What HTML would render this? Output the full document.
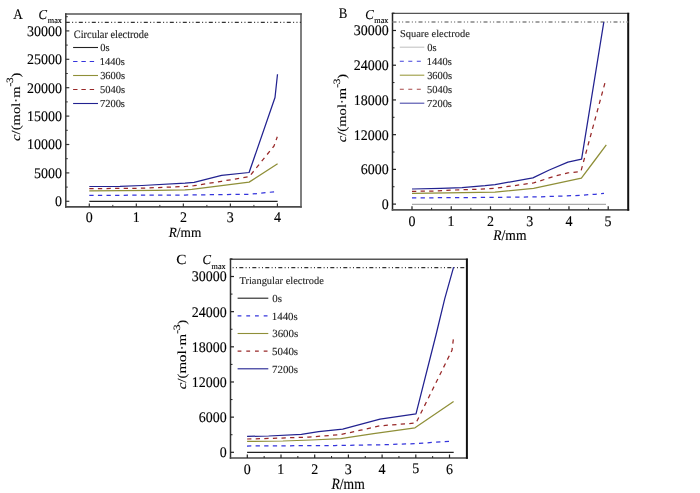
<!DOCTYPE html>
<html><head><meta charset="utf-8"><style>
html,body{margin:0;padding:0;background:#fff;}
svg{display:block;will-change:transform;}
text{font-family:"Liberation Serif",serif;text-rendering:geometricPrecision;}
</style></head><body>
<svg width="700" height="493" viewBox="0 0 700 493">
<rect width="700" height="493" fill="#fff"/>
<line x1="65.05" y1="13.90" x2="301.75" y2="13.90" stroke="#555" stroke-width="1.5" />
<line x1="65.80" y1="13.15" x2="65.80" y2="207.70" stroke="#3a3a3a" stroke-width="1.5" />
<line x1="65.05" y1="206.90" x2="301.75" y2="206.90" stroke="#4a4a4a" stroke-width="1.6" />
<line x1="301.00" y1="13.15" x2="301.00" y2="207.70" stroke="#555" stroke-width="1.5" />
<line x1="65.80" y1="201.30" x2="69.30" y2="201.30" stroke="#333" stroke-width="1.2" />
<line x1="65.80" y1="172.90" x2="69.30" y2="172.90" stroke="#333" stroke-width="1.2" />
<line x1="65.80" y1="144.50" x2="69.30" y2="144.50" stroke="#333" stroke-width="1.2" />
<line x1="65.80" y1="116.10" x2="69.30" y2="116.10" stroke="#333" stroke-width="1.2" />
<line x1="65.80" y1="87.70" x2="69.30" y2="87.70" stroke="#333" stroke-width="1.2" />
<line x1="65.80" y1="59.30" x2="69.30" y2="59.30" stroke="#333" stroke-width="1.2" />
<line x1="65.80" y1="30.90" x2="69.30" y2="30.90" stroke="#333" stroke-width="1.2" />
<line x1="65.80" y1="187.10" x2="67.80" y2="187.10" stroke="#333" stroke-width="1" />
<line x1="65.80" y1="158.70" x2="67.80" y2="158.70" stroke="#333" stroke-width="1" />
<line x1="65.80" y1="130.30" x2="67.80" y2="130.30" stroke="#333" stroke-width="1" />
<line x1="65.80" y1="101.90" x2="67.80" y2="101.90" stroke="#333" stroke-width="1" />
<line x1="65.80" y1="73.50" x2="67.80" y2="73.50" stroke="#333" stroke-width="1" />
<line x1="65.80" y1="45.10" x2="67.80" y2="45.10" stroke="#333" stroke-width="1" />
<line x1="65.80" y1="16.70" x2="67.80" y2="16.70" stroke="#333" stroke-width="1" />
<line x1="89.30" y1="206.90" x2="89.30" y2="203.40" stroke="#333" stroke-width="1.2" />
<line x1="112.81" y1="206.90" x2="112.81" y2="204.90" stroke="#333" stroke-width="1" />
<line x1="136.33" y1="206.90" x2="136.33" y2="203.40" stroke="#333" stroke-width="1.2" />
<line x1="159.84" y1="206.90" x2="159.84" y2="204.90" stroke="#333" stroke-width="1" />
<line x1="183.36" y1="206.90" x2="183.36" y2="203.40" stroke="#333" stroke-width="1.2" />
<line x1="206.88" y1="206.90" x2="206.88" y2="204.90" stroke="#333" stroke-width="1" />
<line x1="230.39" y1="206.90" x2="230.39" y2="203.40" stroke="#333" stroke-width="1.2" />
<line x1="253.90" y1="206.90" x2="253.90" y2="204.90" stroke="#333" stroke-width="1" />
<line x1="277.42" y1="206.90" x2="277.42" y2="203.40" stroke="#333" stroke-width="1.2" />
<line x1="65.80" y1="22.40" x2="301.00" y2="22.40" stroke="#333" stroke-width="1.2" stroke-dasharray="4.0 2.33 1.0 2.33 1.0 2.34" stroke-dashoffset="0"/>
<line x1="391.75" y1="13.40" x2="629.20" y2="13.40" stroke="#555" stroke-width="1.2" />
<line x1="392.50" y1="12.80" x2="392.50" y2="210.70" stroke="#222" stroke-width="1.5" />
<line x1="391.75" y1="209.80" x2="629.20" y2="209.80" stroke="#555" stroke-width="1.8" />
<line x1="628.20" y1="12.80" x2="628.20" y2="210.70" stroke="#111" stroke-width="2.0" />
<line x1="392.50" y1="204.10" x2="396.00" y2="204.10" stroke="#222" stroke-width="1.2" />
<line x1="392.50" y1="169.38" x2="396.00" y2="169.38" stroke="#222" stroke-width="1.2" />
<line x1="392.50" y1="134.66" x2="396.00" y2="134.66" stroke="#222" stroke-width="1.2" />
<line x1="392.50" y1="99.93" x2="396.00" y2="99.93" stroke="#222" stroke-width="1.2" />
<line x1="392.50" y1="65.21" x2="396.00" y2="65.21" stroke="#222" stroke-width="1.2" />
<line x1="392.50" y1="30.49" x2="396.00" y2="30.49" stroke="#222" stroke-width="1.2" />
<line x1="392.50" y1="186.74" x2="394.50" y2="186.74" stroke="#222" stroke-width="1" />
<line x1="392.50" y1="152.02" x2="394.50" y2="152.02" stroke="#222" stroke-width="1" />
<line x1="392.50" y1="117.30" x2="394.50" y2="117.30" stroke="#222" stroke-width="1" />
<line x1="392.50" y1="82.57" x2="394.50" y2="82.57" stroke="#222" stroke-width="1" />
<line x1="392.50" y1="47.85" x2="394.50" y2="47.85" stroke="#222" stroke-width="1" />
<line x1="392.50" y1="13.13" x2="394.50" y2="13.13" stroke="#222" stroke-width="1" />
<line x1="412.00" y1="209.80" x2="412.00" y2="206.30" stroke="#222" stroke-width="1.2" />
<line x1="431.62" y1="209.80" x2="431.62" y2="207.80" stroke="#222" stroke-width="1" />
<line x1="451.24" y1="209.80" x2="451.24" y2="206.30" stroke="#222" stroke-width="1.2" />
<line x1="470.86" y1="209.80" x2="470.86" y2="207.80" stroke="#222" stroke-width="1" />
<line x1="490.48" y1="209.80" x2="490.48" y2="206.30" stroke="#222" stroke-width="1.2" />
<line x1="510.10" y1="209.80" x2="510.10" y2="207.80" stroke="#222" stroke-width="1" />
<line x1="529.72" y1="209.80" x2="529.72" y2="206.30" stroke="#222" stroke-width="1.2" />
<line x1="549.34" y1="209.80" x2="549.34" y2="207.80" stroke="#222" stroke-width="1" />
<line x1="568.96" y1="209.80" x2="568.96" y2="206.30" stroke="#222" stroke-width="1.2" />
<line x1="588.58" y1="209.80" x2="588.58" y2="207.80" stroke="#222" stroke-width="1" />
<line x1="608.20" y1="209.80" x2="608.20" y2="206.30" stroke="#222" stroke-width="1.2" />
<line x1="392.50" y1="21.90" x2="628.20" y2="21.90" stroke="#858585" stroke-width="1.5" stroke-dasharray="4.0 2.33 1.0 2.33 1.0 2.34" stroke-dashoffset="0"/>
<line x1="229.75" y1="259.30" x2="467.90" y2="259.30" stroke="#555" stroke-width="1.5" />
<line x1="230.50" y1="258.55" x2="230.50" y2="458.80" stroke="#333" stroke-width="1.5" />
<line x1="229.75" y1="458.00" x2="467.90" y2="458.00" stroke="#4a4a4a" stroke-width="1.6" />
<line x1="466.90" y1="258.55" x2="466.90" y2="458.80" stroke="#111" stroke-width="2.0" />
<line x1="230.50" y1="452.30" x2="234.00" y2="452.30" stroke="#222" stroke-width="1.2" />
<line x1="230.50" y1="417.14" x2="234.00" y2="417.14" stroke="#222" stroke-width="1.2" />
<line x1="230.50" y1="381.98" x2="234.00" y2="381.98" stroke="#222" stroke-width="1.2" />
<line x1="230.50" y1="346.82" x2="234.00" y2="346.82" stroke="#222" stroke-width="1.2" />
<line x1="230.50" y1="311.66" x2="234.00" y2="311.66" stroke="#222" stroke-width="1.2" />
<line x1="230.50" y1="276.50" x2="234.00" y2="276.50" stroke="#222" stroke-width="1.2" />
<line x1="230.50" y1="434.72" x2="232.50" y2="434.72" stroke="#222" stroke-width="1" />
<line x1="230.50" y1="399.56" x2="232.50" y2="399.56" stroke="#222" stroke-width="1" />
<line x1="230.50" y1="364.40" x2="232.50" y2="364.40" stroke="#222" stroke-width="1" />
<line x1="230.50" y1="329.24" x2="232.50" y2="329.24" stroke="#222" stroke-width="1" />
<line x1="230.50" y1="294.08" x2="232.50" y2="294.08" stroke="#222" stroke-width="1" />
<line x1="230.50" y1="258.92" x2="232.50" y2="258.92" stroke="#222" stroke-width="1" />
<line x1="247.30" y1="458.00" x2="247.30" y2="454.50" stroke="#222" stroke-width="1.2" />
<line x1="264.15" y1="458.00" x2="264.15" y2="456.00" stroke="#222" stroke-width="1" />
<line x1="281.00" y1="458.00" x2="281.00" y2="454.50" stroke="#222" stroke-width="1.2" />
<line x1="297.85" y1="458.00" x2="297.85" y2="456.00" stroke="#222" stroke-width="1" />
<line x1="314.70" y1="458.00" x2="314.70" y2="454.50" stroke="#222" stroke-width="1.2" />
<line x1="331.55" y1="458.00" x2="331.55" y2="456.00" stroke="#222" stroke-width="1" />
<line x1="348.40" y1="458.00" x2="348.40" y2="454.50" stroke="#222" stroke-width="1.2" />
<line x1="365.25" y1="458.00" x2="365.25" y2="456.00" stroke="#222" stroke-width="1" />
<line x1="382.10" y1="458.00" x2="382.10" y2="454.50" stroke="#222" stroke-width="1.2" />
<line x1="398.95" y1="458.00" x2="398.95" y2="456.00" stroke="#222" stroke-width="1" />
<line x1="415.80" y1="458.00" x2="415.80" y2="454.50" stroke="#222" stroke-width="1.2" />
<line x1="432.65" y1="458.00" x2="432.65" y2="456.00" stroke="#222" stroke-width="1" />
<line x1="449.50" y1="458.00" x2="449.50" y2="454.50" stroke="#222" stroke-width="1.2" />
<line x1="230.50" y1="267.60" x2="466.90" y2="267.60" stroke="#333" stroke-width="1.1" stroke-dasharray="4.0 2.33 1.0 2.33 1.0 2.34" stroke-dashoffset="4.2"/>
<text transform="translate(54.96,206.20) scale(0.954,1)" font-size="14.67" style="" fill="#000" stroke="#000" stroke-width="0.126">0</text>
<text transform="translate(33.97,177.80) scale(0.954,1)" font-size="14.67" style="" fill="#000" stroke="#000" stroke-width="0.126">5000</text>
<text transform="translate(26.97,149.40) scale(0.954,1)" font-size="14.67" style="" fill="#000" stroke="#000" stroke-width="0.126">10000</text>
<text transform="translate(26.97,121.00) scale(0.954,1)" font-size="14.67" style="" fill="#000" stroke="#000" stroke-width="0.126">15000</text>
<text transform="translate(26.97,92.60) scale(0.954,1)" font-size="14.67" style="" fill="#000" stroke="#000" stroke-width="0.126">20000</text>
<text transform="translate(26.97,64.20) scale(0.954,1)" font-size="14.67" style="" fill="#000" stroke="#000" stroke-width="0.126">25000</text>
<text transform="translate(26.97,35.80) scale(0.954,1)" font-size="14.67" style="" fill="#000" stroke="#000" stroke-width="0.126">30000</text>
<text transform="translate(85.80,222.30) scale(0.954,1)" font-size="14.67" style="" fill="#000" stroke="#000" stroke-width="0.126">0</text>
<text transform="translate(132.66,222.34) scale(0.954,1)" font-size="14.67" style="" fill="#000" stroke="#000" stroke-width="0.126">1</text>
<text transform="translate(179.93,222.34) scale(0.954,1)" font-size="14.67" style="" fill="#000" stroke="#000" stroke-width="0.126">2</text>
<text transform="translate(226.86,222.27) scale(0.954,1)" font-size="14.67" style="" fill="#000" stroke="#000" stroke-width="0.126">3</text>
<text transform="translate(273.89,222.34) scale(0.954,1)" font-size="14.67" style="" fill="#000" stroke="#000" stroke-width="0.126">4</text>
<text transform="translate(381.66,209.00) scale(0.954,1)" font-size="14.67" style="" fill="#000" stroke="#000" stroke-width="0.126">0</text>
<text transform="translate(360.67,174.28) scale(0.954,1)" font-size="14.67" style="" fill="#000" stroke="#000" stroke-width="0.126">6000</text>
<text transform="translate(353.67,139.56) scale(0.954,1)" font-size="14.67" style="" fill="#000" stroke="#000" stroke-width="0.126">12000</text>
<text transform="translate(353.67,104.84) scale(0.954,1)" font-size="14.67" style="" fill="#000" stroke="#000" stroke-width="0.126">18000</text>
<text transform="translate(353.67,70.12) scale(0.954,1)" font-size="14.67" style="" fill="#000" stroke="#000" stroke-width="0.126">24000</text>
<text transform="translate(353.67,35.39) scale(0.954,1)" font-size="14.67" style="" fill="#000" stroke="#000" stroke-width="0.126">30000</text>
<text transform="translate(408.50,225.90) scale(0.954,1)" font-size="14.67" style="" fill="#000" stroke="#000" stroke-width="0.126">0</text>
<text transform="translate(447.57,225.94) scale(0.954,1)" font-size="14.67" style="" fill="#000" stroke="#000" stroke-width="0.126">1</text>
<text transform="translate(487.05,225.94) scale(0.954,1)" font-size="14.67" style="" fill="#000" stroke="#000" stroke-width="0.126">2</text>
<text transform="translate(526.19,225.87) scale(0.954,1)" font-size="14.67" style="" fill="#000" stroke="#000" stroke-width="0.126">3</text>
<text transform="translate(565.43,225.94) scale(0.954,1)" font-size="14.67" style="" fill="#000" stroke="#000" stroke-width="0.126">4</text>
<text transform="translate(604.56,225.83) scale(0.954,1)" font-size="14.67" style="" fill="#000" stroke="#000" stroke-width="0.126">5</text>
<text transform="translate(219.66,457.20) scale(0.954,1)" font-size="14.67" style="" fill="#000" stroke="#000" stroke-width="0.126">0</text>
<text transform="translate(198.67,422.04) scale(0.954,1)" font-size="14.67" style="" fill="#000" stroke="#000" stroke-width="0.126">6000</text>
<text transform="translate(191.67,386.88) scale(0.954,1)" font-size="14.67" style="" fill="#000" stroke="#000" stroke-width="0.126">12000</text>
<text transform="translate(191.67,351.72) scale(0.954,1)" font-size="14.67" style="" fill="#000" stroke="#000" stroke-width="0.126">18000</text>
<text transform="translate(191.67,316.56) scale(0.954,1)" font-size="14.67" style="" fill="#000" stroke="#000" stroke-width="0.126">24000</text>
<text transform="translate(191.67,281.40) scale(0.954,1)" font-size="14.67" style="" fill="#000" stroke="#000" stroke-width="0.126">30000</text>
<text transform="translate(243.80,473.55) scale(0.954,1)" font-size="14.67" style="" fill="#000" stroke="#000" stroke-width="0.126">0</text>
<text transform="translate(277.33,473.59) scale(0.954,1)" font-size="14.67" style="" fill="#000" stroke="#000" stroke-width="0.126">1</text>
<text transform="translate(311.27,473.59) scale(0.954,1)" font-size="14.67" style="" fill="#000" stroke="#000" stroke-width="0.126">2</text>
<text transform="translate(344.87,473.52) scale(0.954,1)" font-size="14.67" style="" fill="#000" stroke="#000" stroke-width="0.126">3</text>
<text transform="translate(378.57,473.59) scale(0.954,1)" font-size="14.67" style="" fill="#000" stroke="#000" stroke-width="0.126">4</text>
<text transform="translate(412.16,473.48) scale(0.954,1)" font-size="14.67" style="" fill="#000" stroke="#000" stroke-width="0.126">5</text>
<text transform="translate(445.93,473.52) scale(0.954,1)" font-size="14.67" style="" fill="#000" stroke="#000" stroke-width="0.126">6</text>
<text transform="translate(13.22,19.05) scale(0.888,1)" font-size="14.85" style="" fill="#000" stroke="#000" stroke-width="0.135">A</text>
<text transform="translate(338.86,18.28) scale(0.876,1)" font-size="14.70" style="" fill="#000" stroke="#000" stroke-width="0.137">B</text>
<text transform="translate(176.34,264.11) scale(1.100,1)" font-size="13.88" style="" fill="#000" stroke="#000" stroke-width="0.109">C</text>
<text transform="translate(38.45,19.41) scale(0.938,1)" font-size="13.58" style="font-style:italic;" fill="#000" stroke="#000" stroke-width="0.128">C</text>
<text transform="translate(47.79,23.37) scale(0.980,1)" font-size="8.33" style="" fill="#000" stroke="#000" stroke-width="0.122">max</text>
<text transform="translate(365.25,18.91) scale(0.938,1)" font-size="13.58" style="font-style:italic;" fill="#000" stroke="#000" stroke-width="0.128">C</text>
<text transform="translate(374.29,22.57) scale(0.980,1)" font-size="8.33" style="" fill="#000" stroke="#000" stroke-width="0.122">max</text>
<text transform="translate(202.45,264.11) scale(0.938,1)" font-size="13.58" style="font-style:italic;" fill="#000" stroke="#000" stroke-width="0.128">C</text>
<text transform="translate(211.59,268.57) scale(0.980,1)" font-size="8.33" style="" fill="#000" stroke="#000" stroke-width="0.122">max</text>
<g transform="translate(168.72,236.85) scale(0.947,1)" font-size="14.05" fill="#000" stroke="#000" stroke-width="0.127"><text x="0" y="0"><tspan style="font-style:italic">R</tspan>/mm</text></g>
<g transform="translate(493.32,239.55) scale(0.924,1)" font-size="14.66" fill="#000" stroke="#000" stroke-width="0.130"><text x="0" y="0"><tspan style="font-style:italic">R</tspan>/mm</text></g>
<g transform="translate(331.52,488.95) scale(0.873,1)" font-size="15.57" fill="#000" stroke="#000" stroke-width="0.137"><text x="0" y="0"><tspan style="font-style:italic">R</tspan>/mm</text></g>
<text transform="translate(19.50,140.90) rotate(-90) scale(1.045,0.88)" font-size="14" fill="#000" stroke="#000" stroke-width="0.115"><tspan style="font-style:italic">c</tspan>/(mol·m<tspan font-size="11" dy="-7.2" letter-spacing="-0.3">-3</tspan><tspan dy="7.2">)</tspan></text>
<text transform="translate(346.30,142.20) rotate(-90) scale(1.045,0.88)" font-size="14" fill="#000" stroke="#000" stroke-width="0.115"><tspan style="font-style:italic">c</tspan>/(mol·m<tspan font-size="11" dy="-7.2" letter-spacing="-0.3">-3</tspan><tspan dy="7.2">)</tspan></text>
<text transform="translate(185.90,389.30) rotate(-90) scale(1.065,0.88)" font-size="14" fill="#000" stroke="#000" stroke-width="0.113"><tspan style="font-style:italic">c</tspan>/(mol·m<tspan font-size="11" dy="-7.2" letter-spacing="-0.3">-3</tspan><tspan dy="7.2">)</tspan></text>
<text transform="translate(73.78,37.90) scale(0.916,1)" font-size="11.37" fill="#222" stroke="#222" stroke-width="0.131">Circular electrode</text>
<line x1="73.10" y1="47.50" x2="98.00" y2="47.50" stroke="#222" stroke-width="1.1" />
<text transform="translate(100.18,51.40) scale(0.980,1)" font-size="10.70" style="" fill="#222" stroke="#222" stroke-width="0.122">0s</text>
<line x1="73.10" y1="61.50" x2="98.00" y2="61.50" stroke="#3434dc" stroke-width="1.1" stroke-dasharray="4.4 3.9" />
<text transform="translate(99.71,65.40) scale(0.980,1)" font-size="10.70" style="" fill="#222" stroke="#222" stroke-width="0.122">1440s</text>
<line x1="73.10" y1="75.50" x2="98.00" y2="75.50" stroke="#8f8f38" stroke-width="1.1" />
<text transform="translate(100.13,79.40) scale(0.980,1)" font-size="10.70" style="" fill="#222" stroke="#222" stroke-width="0.122">3600s</text>
<line x1="73.10" y1="89.50" x2="98.00" y2="89.50" stroke="#982828" stroke-width="1.1" stroke-dasharray="4.4 3.9" />
<text transform="translate(99.97,93.40) scale(0.980,1)" font-size="10.70" style="" fill="#222" stroke="#222" stroke-width="0.122">5040s</text>
<line x1="73.10" y1="103.50" x2="98.00" y2="103.50" stroke="#222290" stroke-width="1.1" />
<text transform="translate(99.92,107.40) scale(0.980,1)" font-size="10.70" style="" fill="#222" stroke="#222" stroke-width="0.122">7200s</text>
<text transform="translate(399.92,36.70) scale(0.995,1)" font-size="10.50" fill="#222" stroke="#222" stroke-width="0.121">Square electrode</text>
<line x1="399.80" y1="47.20" x2="424.30" y2="47.20" stroke="#c4c4c4" stroke-width="1.1" />
<text transform="translate(427.18,51.10) scale(0.980,1)" font-size="10.70" style="" fill="#222" stroke="#222" stroke-width="0.122">0s</text>
<line x1="399.80" y1="61.20" x2="424.30" y2="61.20" stroke="#4040dc" stroke-width="1.1" stroke-dasharray="4 4.5" />
<text transform="translate(426.71,65.10) scale(0.980,1)" font-size="10.70" style="" fill="#222" stroke="#222" stroke-width="0.122">1440s</text>
<line x1="399.80" y1="75.20" x2="424.30" y2="75.20" stroke="#9c9c42" stroke-width="1.1" />
<text transform="translate(427.13,79.10) scale(0.980,1)" font-size="10.70" style="" fill="#222" stroke="#222" stroke-width="0.122">3600s</text>
<line x1="399.80" y1="89.20" x2="424.30" y2="89.20" stroke="#a84848" stroke-width="1.1" stroke-dasharray="4 4.5" />
<text transform="translate(426.97,93.10) scale(0.980,1)" font-size="10.70" style="" fill="#222" stroke="#222" stroke-width="0.122">5040s</text>
<line x1="399.80" y1="103.20" x2="424.30" y2="103.20" stroke="#4a4aaa" stroke-width="1.1" />
<text transform="translate(426.92,107.10) scale(0.980,1)" font-size="10.70" style="" fill="#222" stroke="#222" stroke-width="0.122">7200s</text>
<text transform="translate(239.49,283.90) scale(0.991,1)" font-size="10.50" fill="#222" stroke="#222" stroke-width="0.121">Triangular electrode</text>
<line x1="237.60" y1="298.20" x2="268.30" y2="298.20" stroke="#222" stroke-width="1.1" />
<text transform="translate(272.26,302.17) scale(1.000,1)" font-size="10.90" style="" fill="#222" stroke="#222" stroke-width="0.120">0s</text>
<line x1="237.60" y1="315.85" x2="268.30" y2="315.85" stroke="#3434dc" stroke-width="1.1" stroke-dasharray="3.8 4.9" />
<text transform="translate(271.77,319.82) scale(1.000,1)" font-size="10.90" style="" fill="#222" stroke="#222" stroke-width="0.120">1440s</text>
<line x1="237.60" y1="333.50" x2="268.30" y2="333.50" stroke="#8f8f38" stroke-width="1.1" />
<text transform="translate(272.21,337.47) scale(1.000,1)" font-size="10.90" style="" fill="#222" stroke="#222" stroke-width="0.120">3600s</text>
<line x1="237.60" y1="351.15" x2="268.30" y2="351.15" stroke="#982828" stroke-width="1.1" stroke-dasharray="3.8 4.9" />
<text transform="translate(272.05,355.12) scale(1.000,1)" font-size="10.90" style="" fill="#222" stroke="#222" stroke-width="0.120">5040s</text>
<line x1="237.60" y1="368.80" x2="268.30" y2="368.80" stroke="#222290" stroke-width="1.1" />
<text transform="translate(271.99,372.77) scale(1.000,1)" font-size="10.90" style="" fill="#222" stroke="#222" stroke-width="0.120">7200s</text>
<polyline points="89.30,201.40 277.60,201.40" fill="none" stroke="#222" stroke-width="1.2" stroke-linejoin="round"/>
<polyline points="89.30,195.40 185.00,195.00 249.10,194.30 277.40,191.50" fill="none" stroke="#3434dc" stroke-width="1.25" stroke-linejoin="round" stroke-dasharray="4.3 4.3"/>
<polyline points="89.30,190.80 156.00,190.40 185.00,189.80 191.80,189.40 221.60,185.70 249.10,182.10 277.60,163.70" fill="none" stroke="#8f8f38" stroke-width="1.25" stroke-linejoin="round"/>
<polyline points="89.30,188.70 142.00,188.20 185.00,186.50 194.00,185.70 221.60,181.30 249.30,176.60 274.00,146.00 277.30,136.80" fill="none" stroke="#982828" stroke-width="1.25" stroke-linejoin="round" stroke-dasharray="4.3 4.3"/>
<polyline points="89.30,186.50 120.00,186.30 142.00,185.50 185.00,183.20 194.10,182.30 221.60,175.40 249.10,172.50 275.00,97.50 277.50,74.20" fill="none" stroke="#222290" stroke-width="1.25" stroke-linejoin="round"/>
<polyline points="412.00,204.40 606.00,204.40" fill="none" stroke="#aaa" stroke-width="1.2" stroke-linejoin="round"/>
<polyline points="412.00,197.90 495.00,197.40 540.00,196.80 575.00,195.60 595.00,194.30 604.00,193.30" fill="none" stroke="#3434dc" stroke-width="1.25" stroke-linejoin="round" stroke-dasharray="4.3 4.3"/>
<polyline points="412.00,193.30 448.00,192.90 495.00,192.10 533.60,188.30 581.40,178.10 595.00,160.00 606.30,144.80" fill="none" stroke="#8f8f38" stroke-width="1.25" stroke-linejoin="round"/>
<polyline points="412.00,191.40 433.60,191.00 455.00,190.00 476.40,189.30 495.00,188.30 533.60,182.90 556.40,175.70 567.90,172.90 580.90,171.40 605.00,82.70" fill="none" stroke="#982828" stroke-width="1.25" stroke-linejoin="round" stroke-dasharray="4.3 4.3"/>
<polyline points="412.00,189.00 440.70,188.30 462.00,187.60 485.00,185.70 495.00,184.60 532.90,177.90 549.30,170.00 567.90,162.10 581.60,159.10 603.80,22.20" fill="none" stroke="#222290" stroke-width="1.25" stroke-linejoin="round"/>
<polyline points="247.10,452.30 453.70,452.30" fill="none" stroke="#222" stroke-width="1.2" stroke-linejoin="round"/>
<polyline points="247.00,446.00 335.00,445.50 380.00,444.80 416.00,443.60 453.00,441.00" fill="none" stroke="#3434dc" stroke-width="1.25" stroke-linejoin="round" stroke-dasharray="4.3 4.3"/>
<polyline points="247.10,441.40 282.90,441.00 311.40,440.00 340.60,438.60 373.60,433.60 415.00,427.80 453.60,401.40" fill="none" stroke="#8f8f38" stroke-width="1.25" stroke-linejoin="round"/>
<polyline points="247.10,439.00 272.90,438.30 308.60,437.10 340.60,434.60 360.70,430.20 380.00,425.80 399.30,424.30 416.00,423.00 452.00,350.30 453.60,337.10" fill="none" stroke="#982828" stroke-width="1.25" stroke-linejoin="round" stroke-dasharray="4.3 4.3"/>
<polyline points="247.10,436.40 268.60,436.00 301.40,434.30 318.60,431.70 342.70,429.10 380.00,419.20 416.00,413.80 436.10,334.50 444.70,298.80 453.60,267.20" fill="none" stroke="#222290" stroke-width="1.25" stroke-linejoin="round"/>
</svg></body></html>
